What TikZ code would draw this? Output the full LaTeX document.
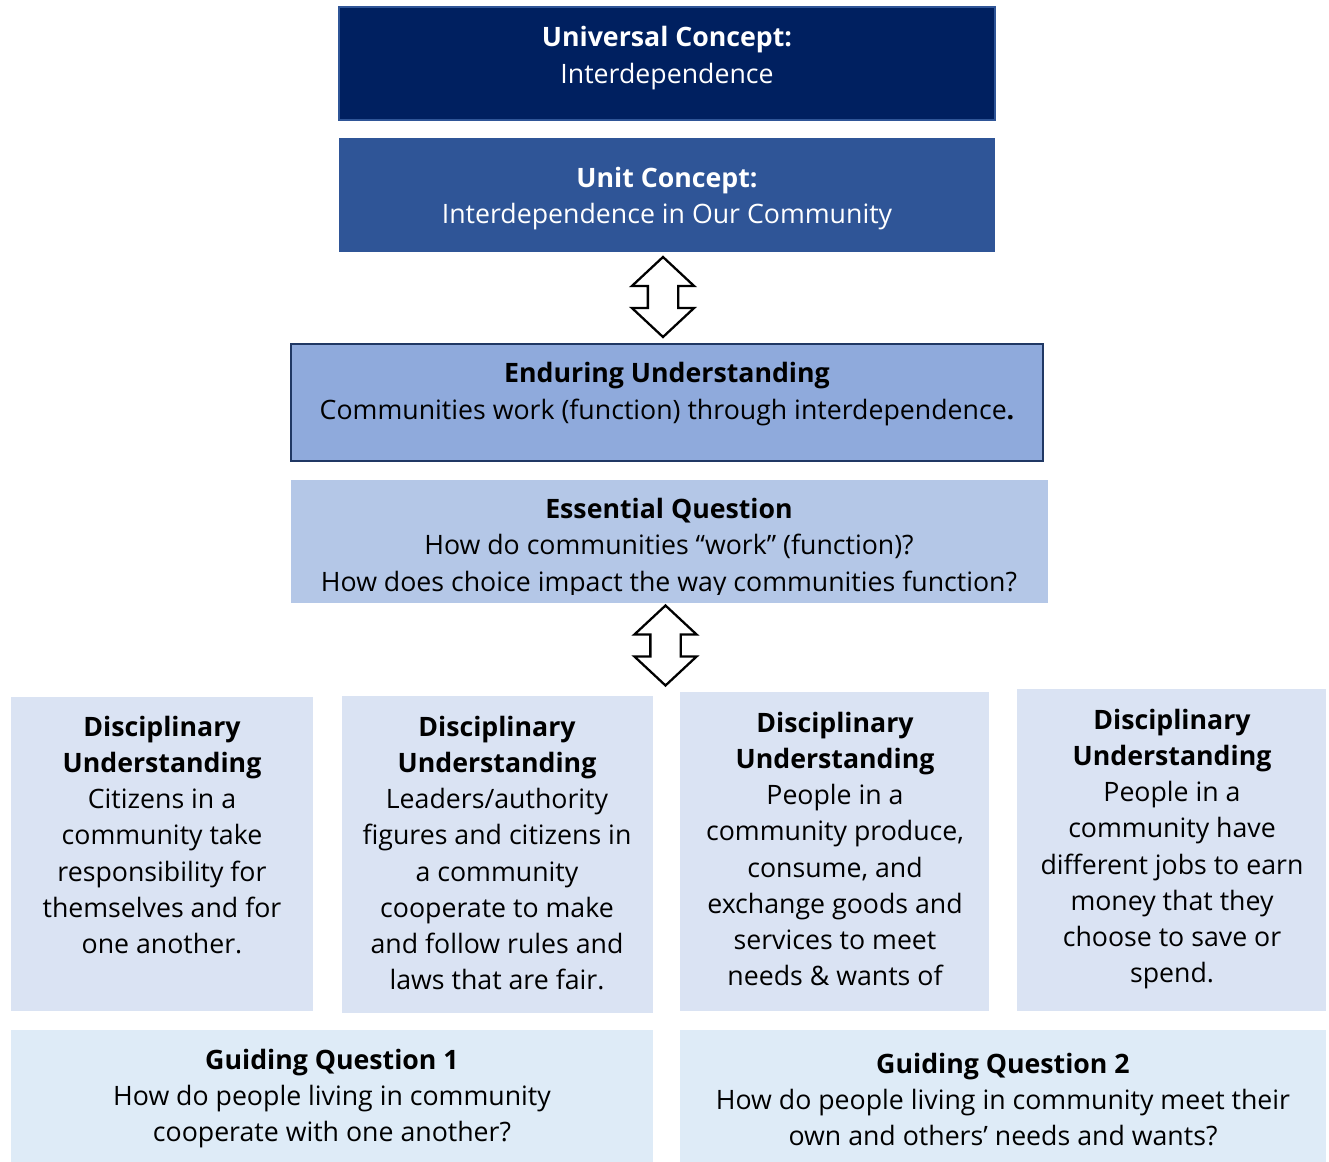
\documentclass[tikz,border=0pt]{standalone}
\usepackage{fontspec}
\setmainfont{Open Sans}
\usetikzlibrary{calc,fit,shapes.arrows}
\definecolor{navy}{HTML}{002060}
\definecolor{midblue}{HTML}{2F5597}
\definecolor{darkrim}{HTML}{203864}
\definecolor{endfill}{HTML}{8FAADC}
\definecolor{essfill}{HTML}{B4C7E7}
\definecolor{disfill}{HTML}{DAE3F3}
\definecolor{guifill}{HTML}{DEEBF7}
\tikzset{
	box/.style={inner sep=0pt, outer sep=0pt},
	txt/.style={align=center, inner sep=0pt, font=\fontsize{15.2}{20.6}\selectfont},
	updown/.style={double arrow, draw=black, line width=1.3pt, fill=white, rotate=90,
		inner sep=0.28cm, minimum height=1.6cm,
		double arrow head extend=0.32cm, double arrow tip angle=94}
}

\begin{document}
\begin{tikzpicture}[x=0.02cm, y=-0.02cm]
			%%%%% START %%%%%
			\useasboundingbox (0, 0) rectangle (1329, 1162);
			
			% concepts
			\node[box, fill=navy, draw=midblue, line width=1.2pt, fit={(339, 7) (995, 120)}] (univ) {};
			\node[txt, text=white] (univ-t) at (667, 58) {\textbf{Universal Concept:}\\Interdependence};
			
			\node[box, fill=midblue, fit={(339, 138) (995, 252)}] (unit) {};
			\node[txt, text=white] (unit-t) at (667, 198.5) {\textbf{Unit Concept:}\\Interdependence in Our Community};
			
			\node[box, fill=endfill, draw=darkrim, line width=1.4pt, fit={(291, 344) (1043, 461)}] (endur) {};
			\node[txt] (endur-t) at (667, 394) {\textbf{Enduring Understanding}\\Communities work (function) through interdependence\textbf{.}};
			
			\node[box, fill=essfill, fit={(291, 480) (1048, 603)}] (ess) {};
			\begin{scope}
				\clip (291, 480) rectangle (1048, 594);
				\node[txt] (ess-t) at (669, 548) {\textbf{Essential Question}\\How do communities “work” (function)?\\How does choice impact the way communities function?};
			\end{scope}
			
			% disciplinary understandings
			\node[box, fill=disfill, fit={(11, 697) (313, 1011)}] (dis1) {};
			\node[txt] (dis1-t) at (162, 835) {\textbf{Disciplinary}\\\textbf{Understanding}\\Citizens in a\\community take\\responsibility for\\themselves and for\\one another.};
			
			\node[box, fill=disfill, fit={(342, 696) (653, 1013)}] (dis2) {};
			\node[txt] (dis2-t) at (497, 853) {\textbf{Disciplinary}\\\textbf{Understanding}\\Leaders/authority\\figures and citizens in\\a community\\cooperate to make\\and follow rules and\\laws that are fair.};
			
			\node[box, fill=disfill, fit={(680, 692) (989, 1011)}] (dis3) {};
			\node[txt] (dis3-t) at (835, 849) {\textbf{Disciplinary}\\\textbf{Understanding}\\People in a\\community produce,\\consume, and\\exchange goods and\\services to meet\\needs \& wants of};
			
			\node[box, fill=disfill, fit={(1017, 689) (1326, 1011)}] (dis4) {};
			\node[txt] (dis4-t) at (1172, 849) {\textbf{Disciplinary}\\\textbf{Understanding}\\People in a\\community have\\different jobs to earn\\money that they\\choose to save or\\spend.};
			
			% guiding questions
			\node[box, fill=guifill, fit={(11, 1030) (653, 1162)}] (gui1) {};
			\node[txt] (gui1-t) at (332, 1098.5) {\textbf{Guiding Question 1}\\How do people living in community\\cooperate with one another?};
			
			\node[box, fill=guifill, fit={(680, 1030) (1326, 1162)}] (gui2) {};
			\node[txt] (gui2-t) at (1003, 1099.5) {\textbf{Guiding Question 2}\\How do people living in community meet their\\own and others’ needs and wants?};
			
			% block arrows
			\node[updown] (arr1) at ($(unit.south)!0.5!(endur.north) + (-4, -1)$) {};
			\node[updown] (arr2) at ($(ess.south)!0.5!(ess.south |- dis3.north) + (-4, -2)$) {};
			
			%%%%% END %%%%%
\end{tikzpicture}
\end{document}
